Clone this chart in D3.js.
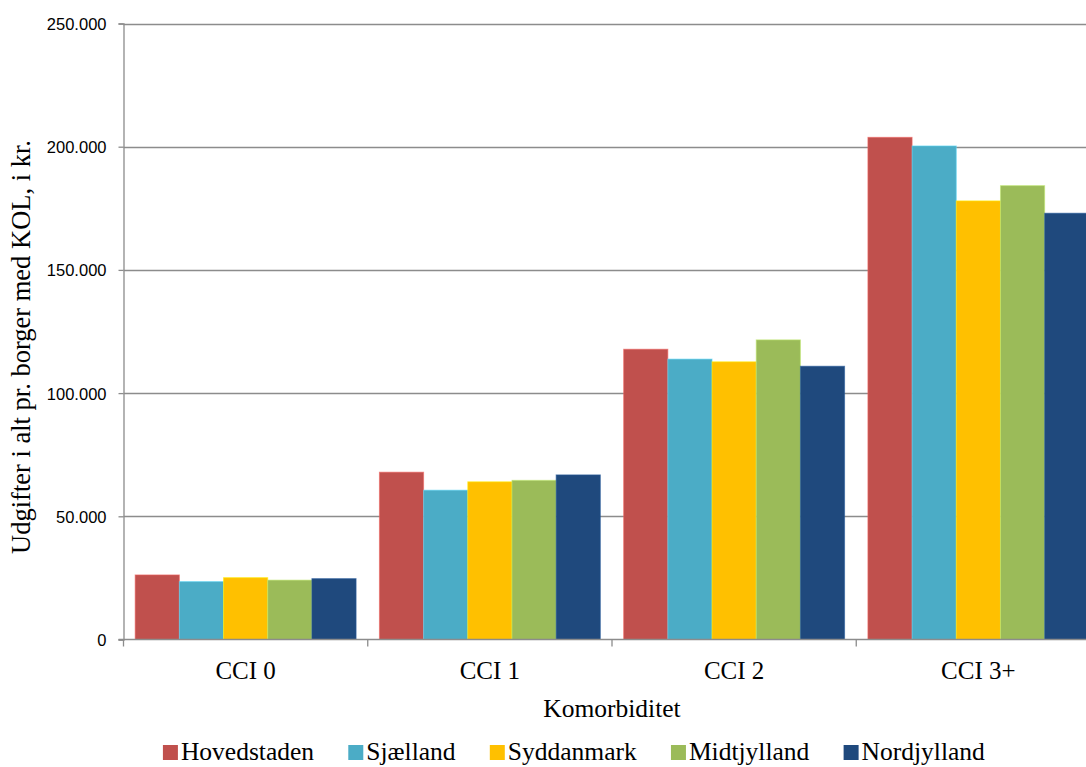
<!DOCTYPE html>
<html>
<head>
<meta charset="utf-8">
<script src="https://cdn.jsdelivr.net/npm/d3@7/dist/d3.min.js"></script>
<style>
  html, body { margin: 0; padding: 0; background: #fff; overflow: hidden; }
  svg { display: block; }
</style>
</head>
<body>
<svg id="chart" width="1086" height="767"></svg>
<script>
// Udgifter pr. borger med KOL fordelt på komorbiditet og region
const categories = ["CCI 0", "CCI 1", "CCI 2", "CCI 3+"];
const regions = ["Hovedstaden", "Sjælland", "Syddanmark", "Midtjylland", "Nordjylland"];
const colors = ["#C0504D", "#4BACC6", "#FFC000", "#9BBB59", "#1F497D"];

const hovedstaden = [26200, 67900, 117800, 203800];
const sjaelland   = [23500, 60600, 113800, 200300];
const syddanmark  = [25100, 64000, 112700, 178000];
const midtjylland = [24100, 64600, 121600, 184200];
const nordjylland = [24700, 66800, 110900, 173000];
const seriesValues = [hovedstaden, sjaelland, syddanmark, midtjylland, nordjylland];

const yTicks = [0, 50000, 100000, 150000, 200000, 250000];
const yTitle = "Udgifter i alt pr. borger med KOL, i kr.";
const xTitle = "Komorbiditet";

const svg = d3.select("#chart");
const plot = { left: 123.5, right: 1100.5, top: 23.5, bottom: 639.5 };

const x0 = d3.scaleBand().domain(categories).range([plot.left, plot.right]).padding(0);
const x1 = d3.scaleBand().domain(regions).range([0, x0.bandwidth()])
  .paddingInner(0).paddingOuter(0.264);
const y = d3.scaleLinear().domain([0, 250000]).range([plot.bottom, plot.top]);

const fmt = v => d3.format(",")(v).replace(/,/g, ".");
const serif = "'Liberation Serif', 'DejaVu Serif', serif";
const sans = "'Liberation Sans', Arial, sans-serif";
const gridColor = "#8c8c8c";

// Horizontal gridlines
svg.append("g")
  .selectAll("line")
  .data(yTicks.filter(t => t > 0))
  .join("line")
  .attr("x1", plot.left).attr("x2", plot.right)
  .attr("y1", d => Math.round(y(d)) + 0.5).attr("y2", d => Math.round(y(d)) + 0.5)
  .attr("stroke", gridColor).attr("stroke-width", 1.3);

// Bars
const groups = svg.append("g")
  .selectAll("g")
  .data(categories)
  .join("g")
  .attr("transform", d => `translate(${x0(d)},0)`);

groups.selectAll("rect")
  .data((c, ci) => regions.map((r, ri) => ({ r, ri, v: seriesValues[ri][ci] })))
  .join("rect")
  .attr("x", d => x1(d.r))
  .attr("width", x1.bandwidth())
  .attr("y", d => y(d.v))
  .attr("height", d => y(0) - y(d.v))
  .attr("fill", d => colors[d.ri])
  .attr("stroke", d => d3.color(colors[d.ri]).brighter(0.6))
  .attr("stroke-opacity", 0.6)
  .attr("stroke-width", 1);

// Y axis
const yAxis = d3.axisLeft(y).tickValues(yTicks).tickSize(5).tickPadding(12).tickFormat(fmt);
const gy = svg.append("g").attr("transform", `translate(${plot.left},0)`).call(yAxis);
gy.select(".domain").attr("stroke", gridColor).attr("stroke-width", 1.3);
gy.selectAll(".tick line").attr("stroke", gridColor).attr("stroke-width", 1.3);
gy.selectAll(".tick text")
  .attr("font-family", sans).attr("font-size", 16.5).attr("fill", "#000")
  .attr("dy", "0.36em");

// X axis (ticks on category boundaries)
const gx = svg.append("g");
gx.append("line")
  .attr("x1", plot.left - 5).attr("x2", plot.right)
  .attr("y1", plot.bottom).attr("y2", plot.bottom)
  .attr("stroke", gridColor).attr("stroke-width", 1.3);
const boundaries = categories.map(c => x0(c)).concat([x0(categories[categories.length - 1]) + x0.bandwidth()]);
gx.selectAll("line.b")
  .data(boundaries)
  .join("line")
  .attr("class", "b")
  .attr("x1", d => d).attr("x2", d => d)
  .attr("y1", plot.bottom).attr("y2", plot.bottom + 7)
  .attr("stroke", gridColor).attr("stroke-width", 1.3);
gx.selectAll("text")
  .data(categories)
  .join("text")
  .attr("x", d => x0(d) + x0.bandwidth() / 2)
  .attr("y", 679)
  .attr("text-anchor", "middle")
  .attr("font-family", serif).attr("font-size", 25)
  .text(d => d);

// Axis titles
svg.append("text")
  .attr("x", (plot.left + plot.right) / 2)
  .attr("y", 717)
  .attr("text-anchor", "middle")
  .attr("font-family", serif).attr("font-size", 25.5)
  .text(xTitle);

svg.append("text")
  .attr("transform", "translate(30,347) rotate(-90)")
  .attr("text-anchor", "middle")
  .attr("font-family", serif).attr("font-size", 26.5)
  .text(yTitle);

// Legend
const legend = svg.append("g").attr("transform", "translate(0,760)");
const items = legend.selectAll("g").data(regions).join("g");
items.append("rect")
  .attr("y", -15).attr("width", 15).attr("height", 15)
  .attr("fill", (d, i) => colors[i]);
items.append("text")
  .attr("x", 18).attr("y", 0)
  .attr("font-family", serif).attr("font-size", 25.5)
  .text(d => d);
let cursor = 0;
const offsets = [];
items.each(function() {
  const w = this.getBBox().width;
  offsets.push(cursor);
  cursor += w + 34;
});
const total = cursor - 34;
const startX = 574 - total / 2;
items.attr("transform", (d, i) => `translate(${startX + offsets[i]},0)`);
</script>
</body>
</html>
